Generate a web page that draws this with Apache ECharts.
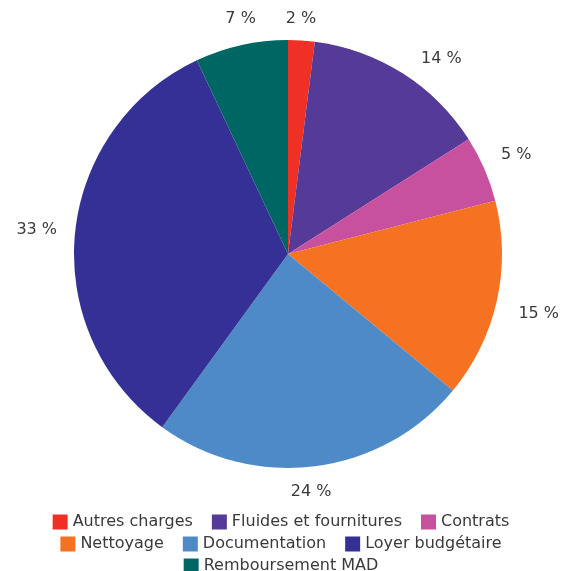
<!DOCTYPE html>
<html><head><meta charset="utf-8">
<script src="https://cdn.jsdelivr.net/npm/echarts@6/dist/echarts.min.js"></script>
<style>html,body{margin:0;padding:0;background:#fff}#c{width:562px;height:571px}</style>
</head><body><div id="c"></div>
<script>
const categories = ["Autres charges","Fluides et fournitures","Contrats","Nettoyage","Documentation","Loyer budgétaire","Remboursement MAD"];
const values = [2,14,5,15,24,33,7];
const colors = ["#EE3124","#553A98","#C8519F","#F47222","#4E8AC8","#353096","#006664"];
const legendRows = [[0,1,2],[3,4,5],[6]];
const font = "DejaVu Sans";
const CX = 288, CY = 254, R = 214, GAP = 18;
const total = values.reduce((a,b)=>a+b,0);
const midAngles = [];
{ let c = 0; values.forEach(v=>{ midAngles.push((c + v/2)/total*2*Math.PI); c += v; }); }
const labelShift = {0:[-2,4],1:[24,9],3:[4,5],4:[-7,0],6:[5,-1]};
const chart = echarts.init(document.getElementById('c'));
chart.setOption({
  animation:false,
  color: colors,
  legend: legendRows.map((r,i)=>({
    data: r.map(k=>categories[k]),
    left:'center', top: 509 + i*22,
    icon:'rect', itemWidth:15, itemHeight:15, itemGap:19, itemTextGap:8,
    textStyle:{fontFamily:font,fontSize:16,color:'#3a3a3a'}
  })),
  series:[{
    type:'pie', center:[CX,CY], radius:R, startAngle:90, clockwise:true,
    data: categories.map((n,i)=>({name:n,value:values[i]})),
    label:{show:true,position:'outside',overflow:'none',formatter:p=>p.value+' %',fontFamily:font,fontSize:16,color:'#3a3a3a'},
    labelLine:{show:false,length:18,length2:0},
    labelLayout: p => {
      const a = midAngles[p.dataIndex];
      const ux = Math.sin(a), uy = -Math.cos(a);
      const w = p.labelRect.width, h = p.labelRect.height;
      const ext = Math.min(Math.abs(ux) > 1e-6 ? w/2/Math.abs(ux) : Infinity,
                           Math.abs(uy) > 1e-6 ? h/2/Math.abs(uy) : Infinity);
      const r = R + GAP + ext;
      const s = labelShift[p.dataIndex] || [0,0];
      return {x: CX + ux*r + s[0], y: CY + uy*r + s[1], align:'center', verticalAlign:'middle'};
    },
    itemStyle:{borderWidth:0}
  }]
});
</script></body></html>
